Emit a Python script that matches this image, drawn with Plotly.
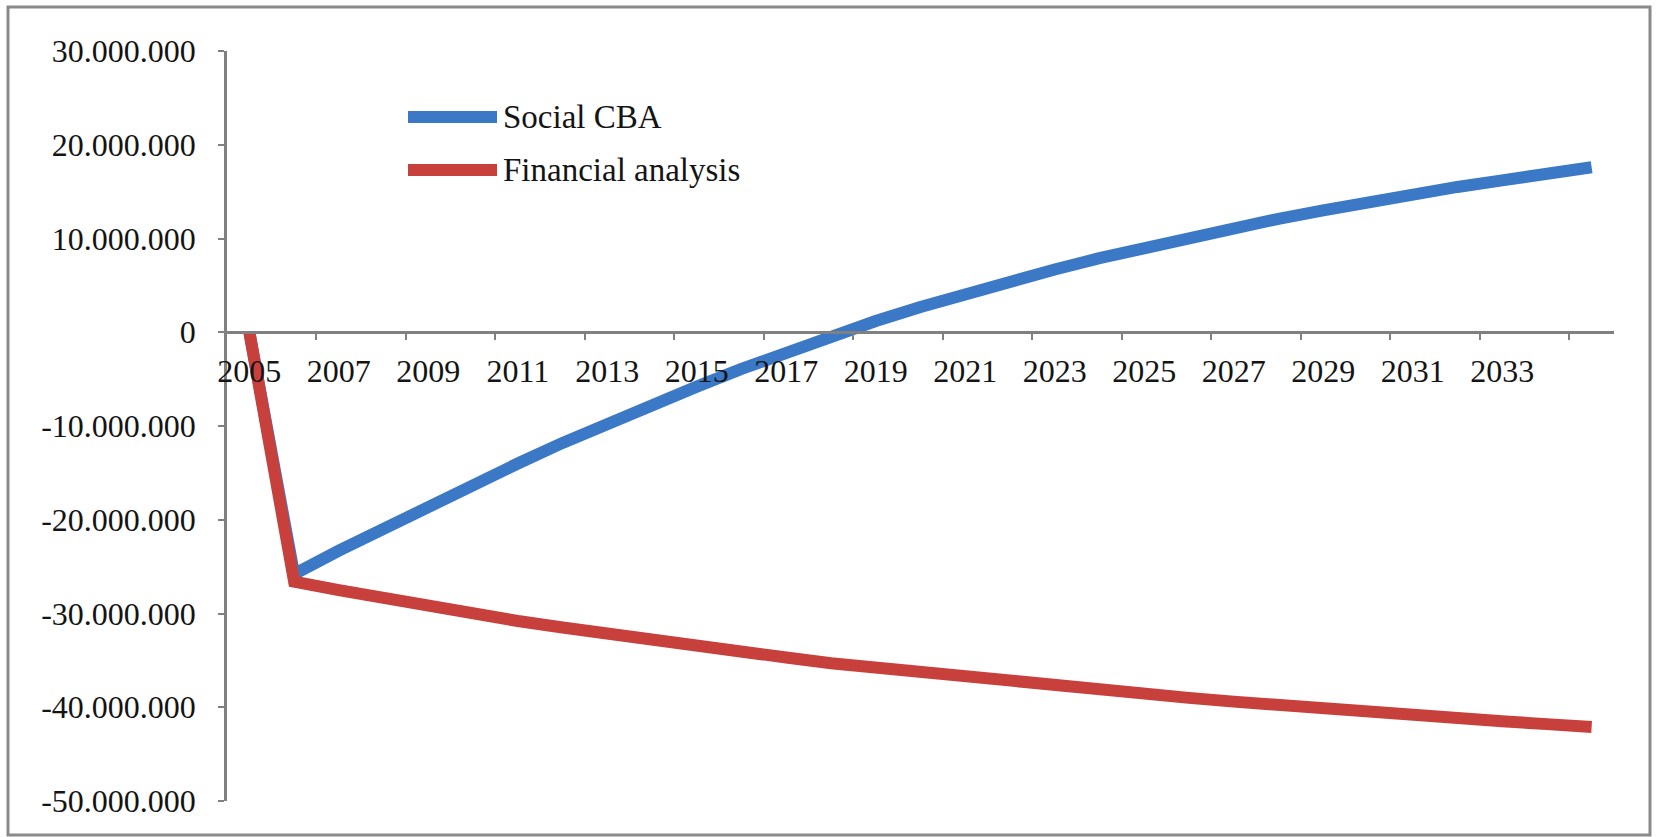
import plotly.graph_objects as go

# Cumulative net present value per year (EUR)
years = list(range(2005, 2036))
social_cba = [
    0, -25.8e6, -23.3e6, -20.9e6, -18.5e6, -16.2e6, -14.0e6, -11.8e6, -9.7e6, -7.7e6,
    -5.8e6, -3.9e6, -2.1e6, -0.4e6, 1.2e6, 2.7e6, 4.1e6, 5.4e6, 6.7e6, 7.9e6,
    9.0e6, 10.1e6, 11.1e6, 12.1e6, 13.0e6, 13.9e6, 14.7e6, 15.5e6, 16.2e6, 16.9e6,
    17.6e6,
]
financial_analysis = [
    0, -26.6e6, -27.5e6, -28.4e6, -29.2e6, -30.0e6, -30.8e6, -31.5e6, -32.2e6, -32.9e6,
    -33.5e6, -34.1e6, -34.7e6, -35.3e6, -35.8e6, -36.3e6, -36.8e6, -37.3e6, -37.7e6, -38.2e6,
    -38.6e6, -39.0e6, -39.4e6, -39.8e6, -40.1e6, -40.5e6, -40.8e6, -41.2e6, -41.5e6, -41.8e6,
    -42.1e6,
]

x_label_years = list(range(2005, 2034, 2))
y_tick_values = [30e6, 20e6, 10e6, 0, -10e6, -20e6, -30e6, -40e6, -50e6]
y_tick_labels = ["30.000.000", "20.000.000", "10.000.000", "0", "-10.000.000",
                 "-20.000.000", "-30.000.000", "-40.000.000", "-50.000.000"]

BLUE = "#3B78C6"
RED = "#C8403C"
AXIS = "#808080"
FONT = "Liberation Serif, Times New Roman, serif"
TEXT = "#141414"

W, H = 1664, 837
L, R, T, B = 227, 50, 51, 36
y_min, y_max = -50e6, 30e6


def px_x(p):
    return (p - L) / (W - L - R)


def px_y(p):
    return (H - B - p) / (H - T - B)


fig = go.Figure()
fig.add_trace(go.Scatter(x=years, y=social_cba, mode="lines", name="Social CBA",
                         line=dict(color=BLUE, width=12)))
fig.add_trace(go.Scatter(x=years, y=financial_analysis, mode="lines", name="Financial analysis",
                         line=dict(color=RED, width=12)))

# legend drawn by hand: long thick swatches next to the series names
legend_items = [("Social CBA", BLUE, 117), ("Financial analysis", RED, 170)]
shapes = []
annotations = []
for name, color, ypix in legend_items:
    shapes.append(dict(type="line", xref="paper", yref="paper",
                       x0=px_x(408), x1=px_x(497), y0=px_y(ypix), y1=px_y(ypix),
                       line=dict(color=color, width=12)))
    annotations.append(dict(xref="paper", yref="paper", x=px_x(501), y=px_y(ypix),
                            xanchor="left", yanchor="middle", text=name, showarrow=False,
                            font=dict(family=FONT, size=33, color=TEXT)))

# outer frame around the chart
shapes.append(dict(type="rect", xref="paper", yref="paper",
                   x0=px_x(8), x1=px_x(1650), y0=px_y(835), y1=px_y(7),
                   line=dict(color="#8a8a8a", width=3), layer="below"))

fig.update_layout(
    width=W, height=H,
    margin=dict(l=L, r=R, t=T, b=B),
    paper_bgcolor="white", plot_bgcolor="white",
    showlegend=False,
    shapes=shapes,
    annotations=annotations,
    font=dict(family=FONT, size=32, color=TEXT),
    xaxis=dict(
        range=[2004.5, 2035.5],
        tickmode="array", tickvals=x_label_years, ticktext=[str(y) for y in x_label_years],
        ticks="", showgrid=False, zeroline=False,
        showline=True, linecolor=AXIS, linewidth=2.5,
        anchor="free", position=(0 - y_min) / (y_max - y_min),
        minor=dict(tickmode="array", tickvals=[y + 1.5 for y in x_label_years] + [2004.5 + 30],
                   ticks="outside", ticklen=6, tickcolor=AXIS, tickwidth=2, showgrid=False),
        ticklabelstandoff=10,
        tickfont=dict(family=FONT, size=32, color=TEXT),
        fixedrange=True,
    ),
    yaxis=dict(
        range=[y_min, y_max],
        tickmode="array", tickvals=y_tick_values, ticktext=y_tick_labels,
        ticks="outside", ticklen=6, tickcolor=AXIS, tickwidth=2,
        showgrid=False, zeroline=False,
        showline=True, linecolor=AXIS, linewidth=2.5,
        ticklabelstandoff=16,
        tickfont=dict(family=FONT, size=32, color=TEXT),
        fixedrange=True,
    ),
)

fig.write_html("out.html", config={"displayModeBar": False})
